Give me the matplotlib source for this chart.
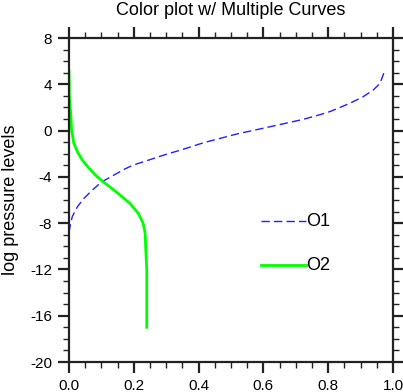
import matplotlib
matplotlib.use("Agg")
import matplotlib.pyplot as plt
from matplotlib.ticker import MultipleLocator, FormatStrFormatter

plt.rcParams['font.family'] = ['Liberation Sans', 'DejaVu Sans']
plt.rcParams['axes.unicode_minus'] = False

# ---------- Data ----------
o1_x = [0.0, 0.003, 0.010, 0.026, 0.046, 0.072, 0.100, 0.139, 0.170, 0.198, 0.229,
        0.260, 0.281, 0.312, 0.343, 0.415, 0.517, 0.620, 0.723, 0.775, 0.806,
        0.826, 0.867, 0.908, 0.939, 0.960, 0.972]
o1_y = [-8.8, -8.31, -7.44, -6.58, -5.86, -5.14, -4.45, -3.84, -3.35, -2.98, -2.70,
        -2.42, -2.22, -1.95, -1.70, -1.05, -0.30, 0.33, 0.97, 1.38, 1.65,
        1.88, 2.36, 2.93, 3.51, 4.08, 5.0]

o2_x = [0.0, 0.001, 0.006, 0.008, 0.015, 0.026, 0.041, 0.062, 0.087, 0.110, 0.139,
        0.170, 0.188, 0.214, 0.229, 0.235, 0.237, 0.240, 0.240]
o2_y = [5.1, 2.93, 1.2, 0.05, -1.1, -1.83, -2.54, -3.26, -3.99, -4.52, -5.14,
        -5.86, -6.29, -7.15, -8.02, -8.88, -10.3, -12.0, -17.0]

series_names = ["O1", "O2"]

# ---------- Plot ----------
fig = plt.figure(figsize=(4.03, 3.92), dpi=100)
ax = fig.add_axes([0.1712, 0.0765, 0.804, 0.8265])

ax.plot(o1_x, o1_y, color="#2020ff", linewidth=1.0, dashes=(6, 3))
ax.plot(o2_x, o2_y, color="#00ff00", linewidth=2.0)

ax.set_xlim(0, 1)
ax.set_ylim(-20, 8)
ax.xaxis.set_major_locator(MultipleLocator(0.2))
ax.xaxis.set_minor_locator(MultipleLocator(0.05))
ax.yaxis.set_major_locator(MultipleLocator(4))
ax.yaxis.set_minor_locator(MultipleLocator(1))
ax.xaxis.set_major_formatter(FormatStrFormatter("%.1f"))

for s in ax.spines.values():
    s.set_linewidth(1.6)
    s.set_color("#222222")
ax.tick_params(which="both", direction="out", top=True, right=True,
               color="#222222", labelsize=11, width=1.6)
ax.tick_params(which="major", length=8, pad=4)
ax.tick_params(which="minor", length=4, width=1.0)

ax.set_title("Color plot w/ Multiple Curves", fontsize=13, y=1.071, pad=0)
ax.set_ylabel("log pressure levels", fontsize=13)
ax.yaxis.set_label_coords(-0.154, 0.5)

# manual legend, drawn inside the plot like the original
leg_y = [0.435, 0.299]
leg_styles = [dict(color="#2020ff", linewidth=1.0, dashes=(6, 3)),
              dict(color="#00ff00", linewidth=2.0)]
for name, yy, st in zip(series_names, leg_y, leg_styles):
    ax.plot([0.593, 0.731], [yy, yy], transform=ax.transAxes, **st)
    ax.text(0.732, yy, name, transform=ax.transAxes, fontsize=13,
            va="center", ha="left")

fig.savefig("out.png", dpi=100)
